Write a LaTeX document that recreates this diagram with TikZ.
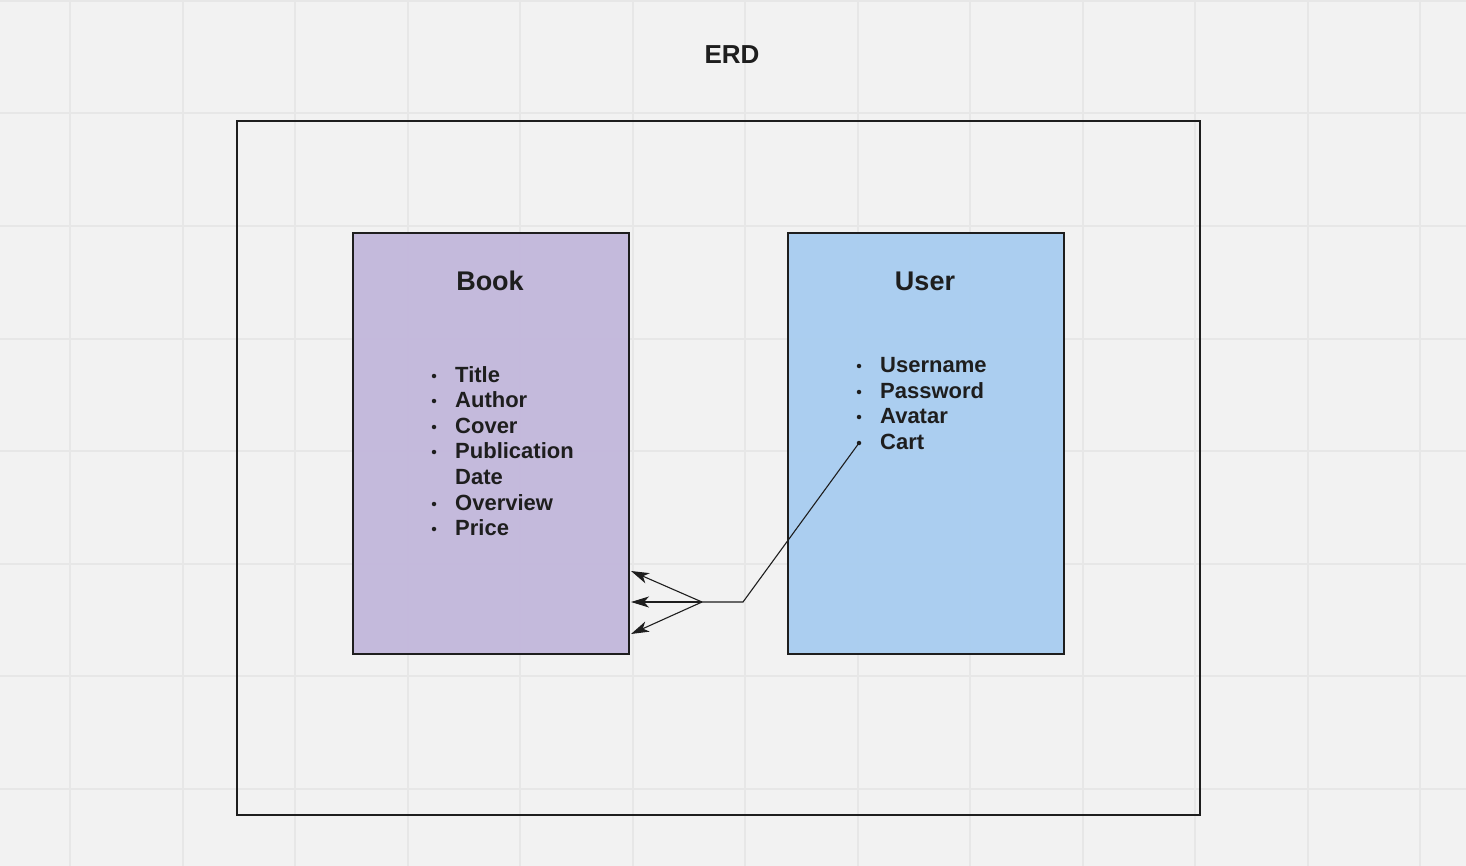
\documentclass[tikz,border=0pt]{standalone}
\usepackage{fontspec}
\setmainfont{Liberation Sans}
\usetikzlibrary{arrows.meta}
\definecolor{bg}{HTML}{F2F2F2}
\definecolor{gridc}{HTML}{E7E7E7}
\definecolor{bookc}{HTML}{C3B8DC}
\definecolor{userc}{HTML}{A9CDF0}
\definecolor{ink}{HTML}{1E1E1E}
\tikzset{
  entity/.style={draw=ink, line width=2pt, anchor=north west, minimum width=276pt, minimum height=421pt, inner sep=0pt, fill opacity=0.96, draw opacity=1},
  ttl/.style={font=\bfseries\fontsize{27}{31}\selectfont, text=ink},
  item/.style={font=\bfseries\fontsize{22}{26}\selectfont, text=ink, anchor=base west, inner sep=0pt},
  bul/.style={circle, fill=ink, inner sep=0pt, minimum size=4.5pt},
  link/.style={draw=ink, line width=1.1pt},
  arr/.style={link, -{Stealth[length=18pt,width=11pt,inset=5pt]}}
}
\begin{document}
\begin{tikzpicture}[x=1pt,y=-1pt]
\useasboundingbox (0,0) rectangle (1466,866);
\fill[bg] (0,0) rectangle (1466,866);
% grid
\foreach \i in {0,...,12} {\draw[gridc, line width=2pt] ({70+112.5*\i},0) -- ({70+112.5*\i},866);}
\foreach \j in {0,...,7} {\draw[gridc, line width=2pt] (0,{1+112.5*\j}) -- (1466,{1+112.5*\j});}
% title
\node[font=\bfseries\fontsize{26}{30}\selectfont, text=ink] (erd) at (732,55) {ERD};
% frame
\node[draw=ink, line width=2pt, anchor=north west, minimum width=963pt, minimum height=694pt, inner sep=0pt] (frame) at (236,120) {};
% entities
\node[entity, fill=bookc] (book) at (352,232) {};
\node[entity, fill=userc] (user) at (787,232) {};
\node[ttl] (booktitle) at (490,281) {Book};
\node[ttl] (usertitle) at (925,281) {User};
% book items
\foreach \t/\y [count=\k] in {Title/382, Author/407, Cover/433, Publication/458, Overview/510, Price/535} {
  \node[item] (bi\k) at (455,\y) {\t};
  \node[bul] (bb\k) at (434,{\y-6}) {};
}
\node[item] (bdate) at (455,484) {Date};
% user items
\foreach \t/\y [count=\k] in {Username/372, Password/398, Avatar/423, Cart/449} {
  \node[item] (ui\k) at (880,\y) {\t};
  \node[bul] (ub\k) at (859,{\y-6}) {};
}
% connector
\coordinate (bend) at (743,602);
\coordinate (fork) at (702,602);
\coordinate (t1) at (631,571);
\coordinate (t2) at (631,602);
\coordinate (t3) at (631,634);
\draw[link] (ub4.center) -- (bend) -- (fork);
\draw[arr] (fork) -- (t1);
\draw[arr] (fork) -- (t2);
\draw[arr] (fork) -- (t3);
\end{tikzpicture}
\end{document}
